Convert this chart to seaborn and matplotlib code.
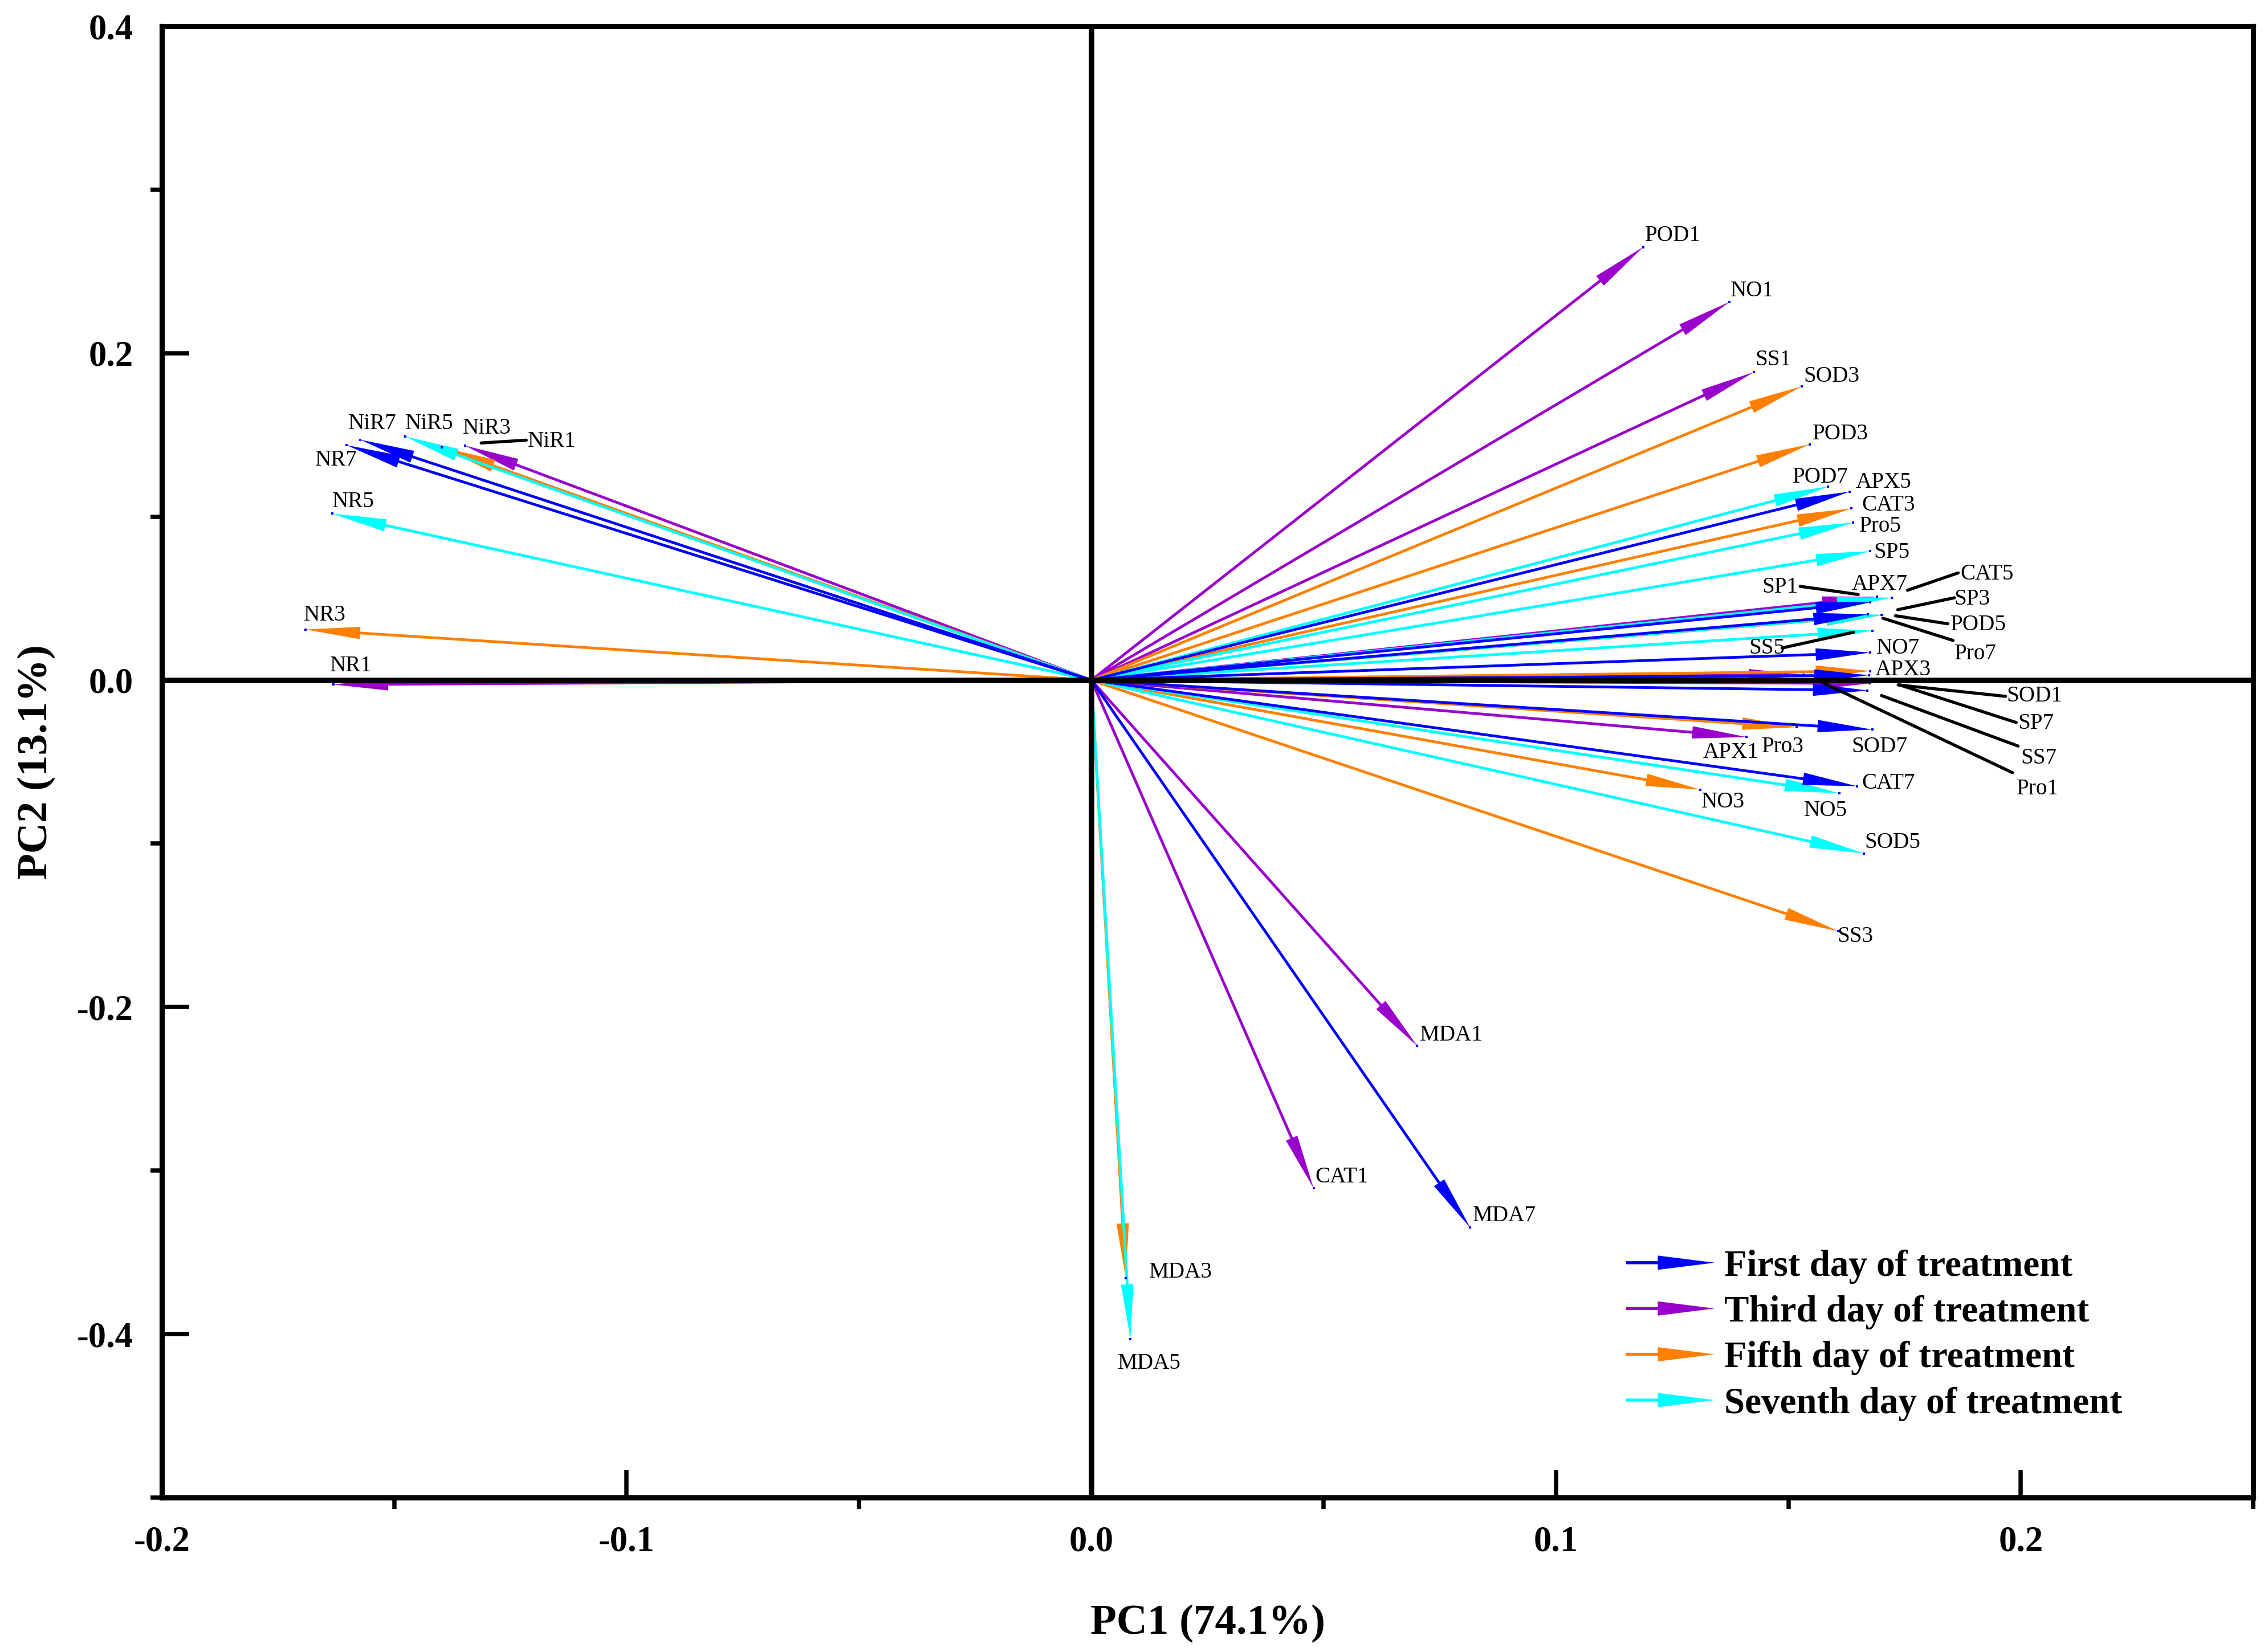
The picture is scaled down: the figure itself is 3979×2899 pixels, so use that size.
import numpy as np
import pandas as pd
import matplotlib
matplotlib.use('Agg')
import matplotlib.pyplot as plt
import matplotlib.patches as mpatches
from matplotlib.legend_handler import HandlerPatch
from matplotlib.ticker import MultipleLocator, FormatStrFormatter
import seaborn as sns

# Loadings (PC1, PC2) for each index and treatment day
variables = ['NR', 'NiR', 'SOD', 'POD', 'CAT', 'APX', 'MDA', 'SS', 'SP', 'Pro', 'NO']
days = [1, 3, 5, 7]

day1_pc1 = [-0.1631, -0.1348, 0.1675, 0.1187, 0.0478, 0.1410, 0.0701, 0.1425, 0.1690, 0.1532, 0.1373]
day1_pc2 = [-0.0027, 0.1435, -0.0020, 0.2649, -0.3108, -0.0348, -0.2237, 0.1884, 0.0510, 0.0033, 0.2314]

day3_pc1 = [-0.1691, -0.1398, 0.1529, 0.1546, 0.1635, 0.1676, 0.0074, 0.1607, 0.1700, 0.1518, 0.1310]
day3_pc2 = [0.0310, 0.1425, 0.1798, 0.1443, 0.1050, 0.0056, -0.3657, -0.1536, 0.0398, -0.0288, -0.0669]

day5_pc1 = [-0.1634, -0.1477, 0.1662, 0.1702, 0.1722, 0.1585, 0.0084, 0.1680, 0.1676, 0.1639, 0.1609]
day5_pc2 = [0.1019, 0.1491, -0.1060, 0.0400, 0.0505, 0.1184, -0.4030, 0.0303, 0.0789, 0.0964, -0.0691]

day7_pc1 = [-0.1603, -0.1573, 0.1680, 0.1631, 0.1648, 0.1676, 0.0815, 0.1670, 0.1673, 0.1671, 0.1676]
day7_pc2 = [0.1438, 0.1471, -0.0302, 0.1153, -0.0649, 0.0476, -0.3349, -0.0063, 0.0030, 0.0402, 0.0169]

day_colors = {1: '#9900CC', 3: '#FF8000', 5: '#00FFFF', 7: '#0000FF'}

legend_labels = ['First day of treatment', 'Third day of treatment',
                 'Fifth day of treatment', 'Seventh day of treatment']
legend_colors = ['#0000FF', '#9900CC', '#FF8000', '#00FFFF']

# where each name sits (left edge, vertical centre)
label_xy = {
    'POD1': (0.1191, 0.272), 'NO1': (0.1375, 0.238), 'SS1': (0.1428, 0.196),
    'SOD3': (0.1533, 0.186), 'POD3': (0.1552, 0.1506), 'POD7': (0.1509, 0.124),
    'APX5': (0.1645, 0.121), 'CAT3': (0.1658, 0.107), 'Pro5': (0.1652, 0.094),
    'SP5': (0.1683, 0.078), 'CAT5': (0.1870, 0.065), 'SP1': (0.1443, 0.0567),
    'APX7': (0.1636, 0.0585), 'SP3': (0.1857, 0.0496), 'POD5': (0.1848, 0.0337),
    'SS5': (0.1415, 0.0195), 'NO7': (0.1689, 0.0195), 'Pro7': (0.1857, 0.016),
    'APX3': (0.1686, 0.0062), 'SOD1': (0.1969, -0.0097), 'SP7': (0.1994, -0.0266),
    'Pro3': (0.1443, -0.0407), 'SOD7': (0.1636, -0.0407), 'APX1': (0.1316, -0.0443),
    'SS7': (0.2000, -0.0478), 'CAT7': (0.1658, -0.0629), 'Pro1': (0.1991, -0.0664),
    'NO3': (0.1313, -0.0744), 'NO5': (0.1533, -0.0797), 'SOD5': (0.1664, -0.0992),
    'SS3': (0.1605, -0.1568), 'MDA1': (0.0706, -0.217), 'CAT1': (0.0482, -0.3038),
    'MDA7': (0.0821, -0.3277), 'MDA3': (0.0124, -0.3623), 'MDA5': (0.0056, -0.418),
    'NiR7': (-0.1599, 0.1568), 'NiR5': (-0.1477, 0.1568), 'NiR3': (-0.1353, 0.1541),
    'NiR1': (-0.1213, 0.1461), 'NR7': (-0.1670, 0.1346), 'NR5': (-0.1633, 0.109),
    'NR3': (-0.1695, 0.0399), 'NR1': (-0.1639, 0.0089),
}

# black leader lines from crowded names to their arrow tips
leaders = [
    ((0.1525, 0.0574), (0.1650, 0.0524)),
    ((0.1756, 0.0550), (0.1865, 0.0656)),
    ((0.1735, 0.0431), (0.1857, 0.0504)),
    ((0.1730, 0.0394), (0.1843, 0.0345)),
    ((0.1703, 0.0379), (0.1854, 0.0243)),
    ((0.1486, 0.0197), (0.1640, 0.0293)),
    ((0.1736, -0.0029), (0.1967, -0.0099)),
    ((0.1739, -0.0029), (0.1990, -0.0259)),
    ((0.1700, -0.0094), (0.1994, -0.0403)),
    ((0.1572, -0.0013), (0.1982, -0.0566)),
    ((-0.1313, 0.1451), (-0.1216, 0.1468)),
]

pcs = {1: (day1_pc1, day1_pc2), 3: (day3_pc1, day3_pc2),
       5: (day5_pc1, day5_pc2), 7: (day7_pc1, day7_pc2)}
rows = []
for d in days:
    for v, x, y in zip(variables, *pcs[d]):
        rows.append({'name': f'{v}{d}', 'day': d, 'PC1': x, 'PC2': y})
df = pd.DataFrame(rows)

sns.set_theme(style='ticks', rc={'axes.edgecolor': 'black', 'xtick.color': 'black',
                                 'ytick.color': 'black', 'text.color': 'black',
                                 'axes.labelcolor': 'black'})
plt.rcParams['font.family'] = ['Liberation Serif', 'DejaVu Serif']
plt.rcParams['axes.unicode_minus'] = False

fig = plt.figure(figsize=(3979 / 300, 2899 / 300), dpi=300)
ax = fig.add_axes([0.0714, 0.0935, 0.9221, 0.8906])

# filled arrow, tip lands exactly on the loading point
arrow_style = 'simple,head_length=23,head_width=5.2,tail_width=1.15'
for _, r in df.iterrows():
    ax.add_patch(mpatches.FancyArrowPatch((0, 0), (r.PC1, r.PC2), arrowstyle=arrow_style,
                                          mutation_scale=1, facecolor=day_colors[r.day],
                                          edgecolor='none', lw=0,
                                          shrinkA=0, shrinkB=0, zorder=2))

# little blue end dots, as in the original export
sns.scatterplot(data=df, x='PC1', y='PC2', color='#0000FF', marker='s', s=1.0,
                linewidth=0, zorder=3, legend=False, ax=ax)

ax.axhline(0, color='black', lw=2.3, zorder=4)
ax.axvline(0, color='black', lw=2.3, zorder=4)

for (x0, y0), (x1, y1) in leaders:
    ax.plot([x0, x1], [y0, y1], color='black', lw=1.3, zorder=4)

for name, (tx, ty) in label_xy.items():
    ax.text(tx, ty, name, ha='left', va='center', fontsize=9.4, zorder=5,
            family=['Liberation Serif', 'DejaVu Serif'])

ax.set_xlim(-0.2, 0.25)
ax.set_ylim(-0.5, 0.4)
ax.xaxis.set_major_locator(MultipleLocator(0.1))
ax.xaxis.set_minor_locator(MultipleLocator(0.05))
ax.yaxis.set_major_locator(MultipleLocator(0.2))
ax.yaxis.set_minor_locator(MultipleLocator(0.1))
ax.xaxis.set_major_formatter(FormatStrFormatter('%.1f'))
ax.yaxis.set_major_formatter(FormatStrFormatter('%.1f'))

for s in ax.spines.values():
    s.set_linewidth(2.2)
    s.set_visible(True)
ax.tick_params(which='major', direction='in', length=11.5, width=1.8, pad=12,
               labelsize=15)
ax.tick_params(which='minor', direction='out', length=4.8, width=1.8)
ax.tick_params(top=False, right=False, which='both')
for lab in ax.get_xticklabels() + ax.get_yticklabels():
    lab.set_fontweight('bold')

ax.set_xlabel('PC1 (74.1%)', fontsize=18, fontweight='bold', labelpad=19)
ax.set_ylabel('PC2 (13.1%)', fontsize=18, fontweight='bold', labelpad=9)


def make_arrow(legend, orig_handle, xdescent, ydescent, width, height, fontsize):
    yc = height / 2 - ydescent
    return mpatches.FancyArrowPatch((-xdescent, yc), (width - xdescent, yc),
                                    arrowstyle='simple,head_length=24,head_width=6,tail_width=1.3',
                                    mutation_scale=1, shrinkA=0, shrinkB=0)


handles = [mpatches.Patch(facecolor=c, edgecolor='none', linewidth=0) for c in legend_colors]
ax.legend(handles=handles, labels=legend_labels,
          handler_map={mpatches.Patch: HandlerPatch(patch_func=make_arrow)},
          loc='lower left', bbox_to_anchor=(0.700, 0.052), frameon=False,
          prop=dict(family='Liberation Serif', weight='bold', size=15.6),
          handlelength=2.4, handletextpad=0.25, labelspacing=0.31,
          borderpad=0, borderaxespad=0)

fig.savefig('out.png', dpi=300)
